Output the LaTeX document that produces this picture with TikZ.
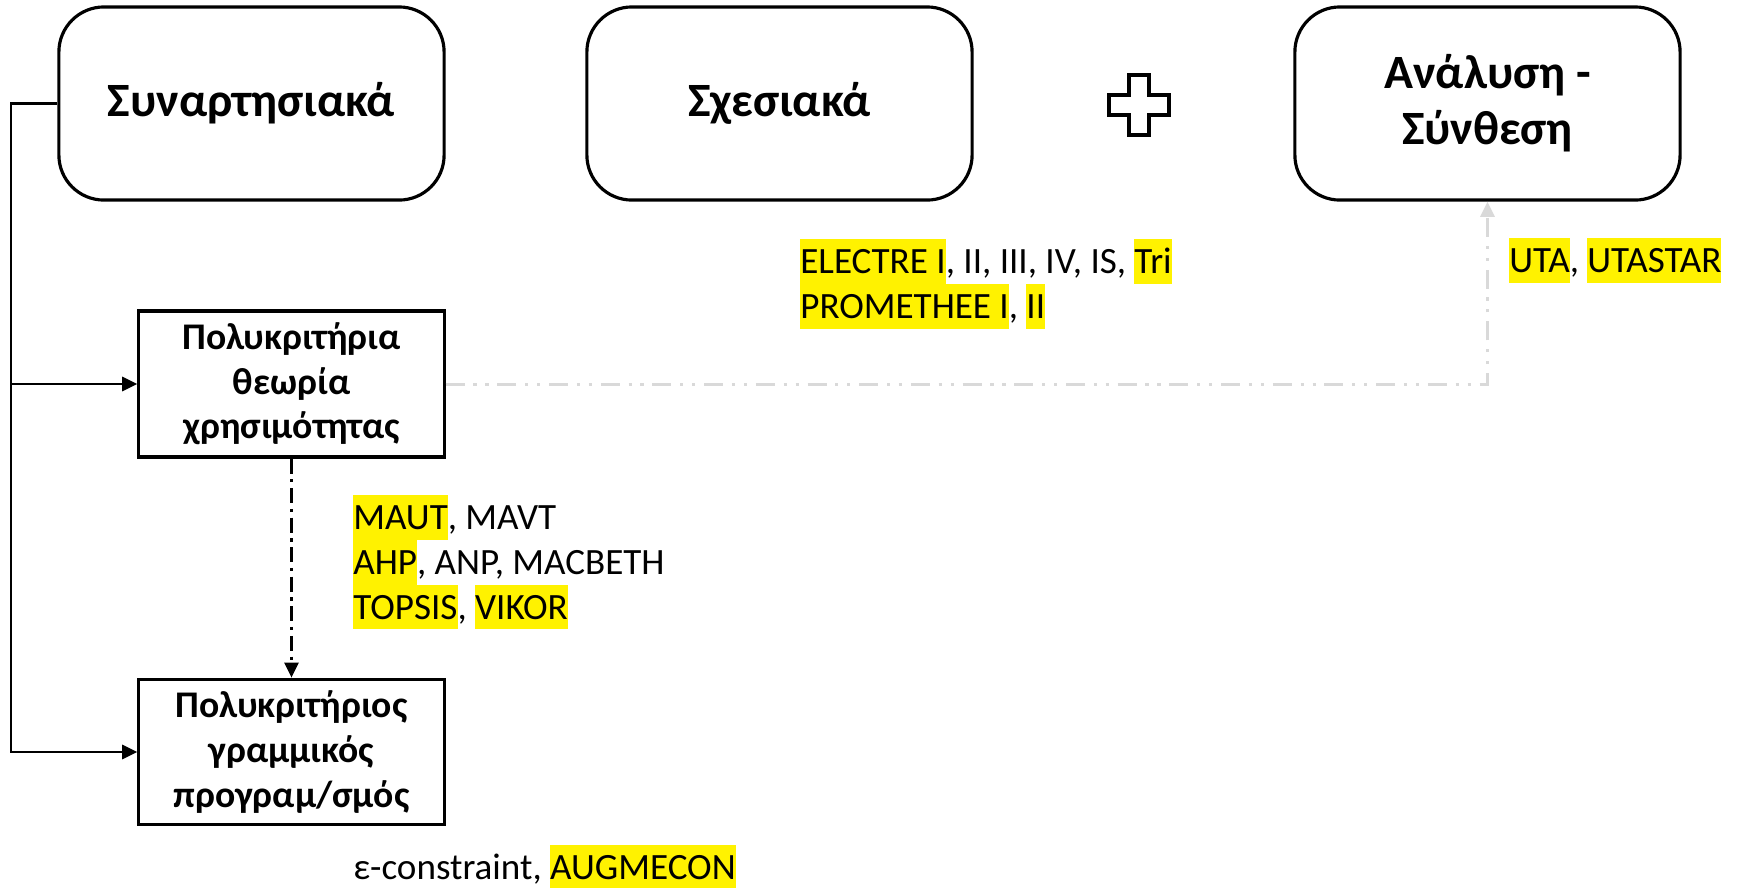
\documentclass[tikz,border=0pt]{standalone}
\usepackage{fontspec}
\setmainfont{Carlito}
\usetikzlibrary{arrows.meta}
\definecolor{linegray}{RGB}{217,217,217}
\newcommand\hlstrut{\rule[-2.85pt]{0pt}{12.7pt}}
\newcommand\hl[1]{\colorbox{yellow}{\hlstrut#1}}

\begin{document}
\begin{tikzpicture}[x=0.01cm, y=-0.01cm, line width=0.75pt,
  group/.style={draw, line width=0.9pt, rounded corners=0.45cm, minimum width=3.85cm, minimum height=1.93cm, align=center, font=\fontsize{13.6}{16}\selectfont\bfseries},
  method/.style={draw, line width=0.9pt, minimum width=3.05cm, minimum height=1.43cm, align=center, font=\fontsize{10.7}{12.7}\selectfont\bfseries},
  list/.style={anchor=north west, inner sep=0pt, align=left, font=\fontsize{10.55}{12.7}\selectfont},
  tip/.style={-{Triangle[length=4.3pt,width=4pt]}}]
  \setlength\fboxsep{0pt}
  \useasboundingbox (0,0) rectangle (1741,887);

  \node[group] (sun) at (251.5,103.5) {Συναρτησιακά};
  \node[group] (rel) at (779.5,103.5) {Σχεσιακά};
  \node[group] (synth) at (1487.5,103.5) {Ανάλυση -\\Σύνθεση};
  \draw[line width=0.9pt] (1129,75) -- (1149,75) -- (1149,95) -- (1169,95) -- (1169,115) -- (1149,115) -- (1149,135) -- (1129,135) -- (1129,115) -- (1109,115) -- (1109,95) -- (1129,95) -- cycle;

  \node[method] (util) at (291.5,384) {Πολυκριτήρια\\θεωρία\\χρησιμότητας};
  \node[method] (linprog) at (291.5,752) {Πολυκριτήριος\\γραμμικός\\προγραμ/σμός};

  \draw[tip] (sun.west) -- (11,0 |- sun.west) coordinate (trunk) |- (linprog.west);
  \draw[tip] (trunk |- util.west) -- (util.west);
  \draw[tip, dash pattern=on 4.3pt off 1.6pt on 0.9pt off 1.6pt] (util.south) -- (linprog.north);
  \draw[tip, linegray, line width=0.85pt, dash pattern=on 5.4pt off 2.5pt on 0.9pt off 2.5pt on 0.9pt off 2.5pt] (util.east) -| (synth.south);

  \node[list] (outrank) at (799,238) {\hl{ELECTRE I}, II, III, IV, IS, \hl{Tri}\\\hl{PROMETHEE I}, \hl{II}};
  \node[list] (disagg) at (1508,237) {\hl{UTA}, \hl{UTASTAR}};
  \node[list] (utilmeth) at (352,494) {\hl{MAUT}, MAVT\\\hl{AHP}, ANP, MACBETH\\\hl{TOPSIS}, \hl{VIKOR}};
  \node[list] (lpmeth) at (352,844) {\hlstrut ε-constraint, \hl{AUGMECON}};
\end{tikzpicture}
\end{document}
